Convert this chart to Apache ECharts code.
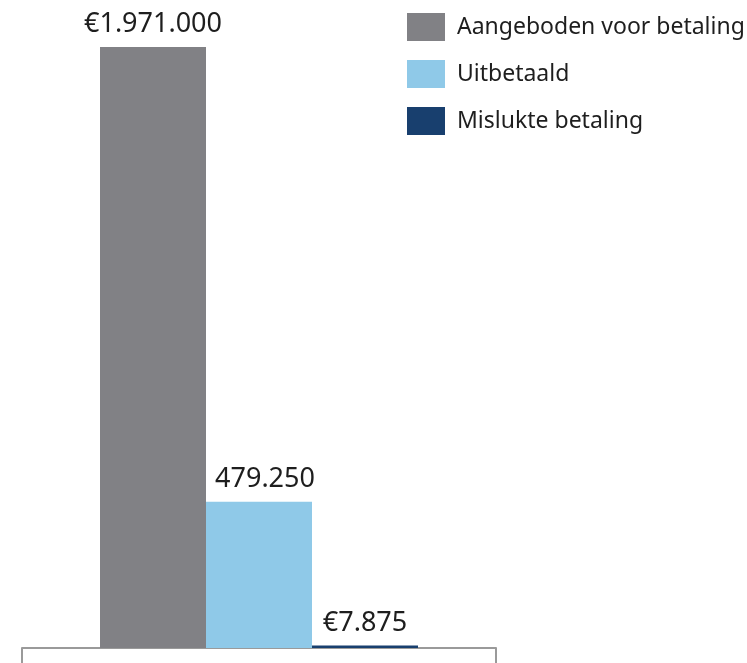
<!DOCTYPE html>
<html>
<head>
<meta charset="utf-8">
<script src="https://cdn.jsdelivr.net/npm/echarts@6/dist/echarts.min.js"></script>
<style>
  html, body { margin: 0; padding: 0; background: #fff; }
  #chart { width: 747px; height: 663px; }
</style>
</head>
<body>
<div id="chart"></div>
<script>
var categories = [""];
var seriesNames = ["Aangeboden voor betaling", "Uitbetaald", "Mislukte betaling"];
var seriesValues = [[1971000], [479250], [7875]];
var valueLabels = ["€1.971.000", "479.250", "€7.875"];
var colors = ["#818185", "#8fc9e8", "#183f6e"];

(function () {
  var myChart = echarts.init(document.getElementById("chart"));
  var labelOffsets = [[0, 0], [6, 0], [0, 0]];
  var series = seriesNames.map(function (name, i) {
    return {
      name: name,
      type: "bar",
      barWidth: 106,
      barGap: "0%",
      data: seriesValues[i],
      itemStyle: { color: colors[i] },
      label: {
        show: true,
        position: "top",
        distance: 9,
        offset: labelOffsets[i],
        fontFamily: "Noto Sans",
        fontSize: 27,
        color: "#1e1e1e",
        formatter: function () {
          return valueLabels[i];
        },
      },
    };
  });
  var option = {
    animation: false,
    legend: {
      orient: "vertical",
      left: 402,
      top: 8,
      itemWidth: 38,
      itemHeight: 28,
      itemGap: 19,
      icon: "rect",
      textStyle: {
        fontFamily: "Noto Sans",
        fontSize: 23,
        color: "#1e1e1e",
        padding: [0, 0, 0, 7],
      },
      data: seriesNames,
    },
    grid: {
      left: 22,
      right: 251,
      top: 47,
      bottom: 15,
    },
    xAxis: {
      type: "category",
      data: categories,
      axisLine: { lineStyle: { color: "#9a9a9a", width: 2 } },
      axisTick: { show: true, length: 15, lineStyle: { color: "#9a9a9a", width: 2 } },
      axisLabel: { show: false },
    },
    yAxis: {
      type: "value",
      min: 0,
      max: 1971000,
      show: false,
      splitLine: { show: false },
    },
    series: series,
  };
  myChart.setOption(option);
})();
</script>
</body>
</html>
